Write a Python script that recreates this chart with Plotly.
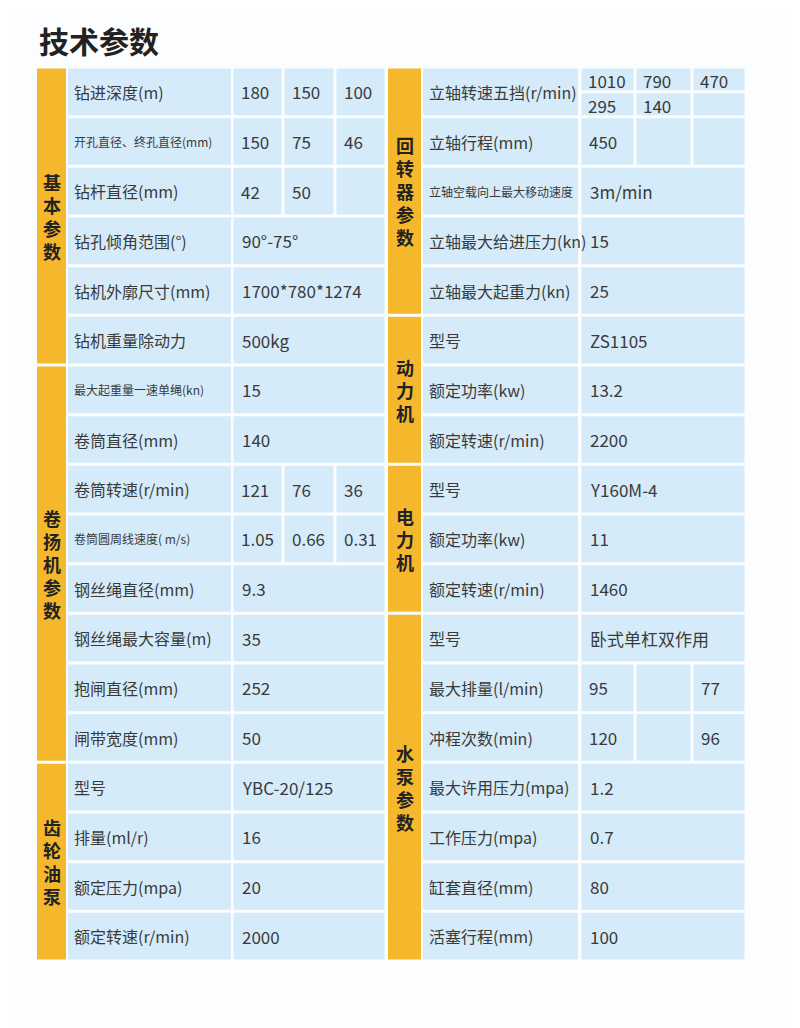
import plotly.graph_objects as go

title = "技术参数"
left_groups = [("基本参数", 0, 6), ("卷扬机参数", 6, 14), ("齿轮油泵", 14, 18)]
right_groups = [("回转器参数", 0, 5), ("动力机", 5, 8), ("电力机", 8, 11), ("水泵参数", 11, 18)]
left_labels = ["钻进深度(m)", "开孔直径、终孔直径(mm)", "钻杆直径(mm)", "钻孔倾角范围(°)", "钻机外廓尺寸(mm)",
               "钻机重量除动力", "最大起重量一速单绳(kn)", "卷筒直径(mm)", "卷筒转速(r/min)", "卷筒圆周线速度( m/s)",
               "钢丝绳直径(mm)", "钢丝绳最大容量(m)", "抱闸直径(mm)", "闸带宽度(mm)", "型号", "排量(ml/r)",
               "额定压力(mpa)", "额定转速(r/min)"]
left_values = [["180", "150", "100"], ["150", "75", "46"], ["42", "50", ""], ["90°-75°"], ["1700*780*1274"],
               ["500kg"], ["15"], ["140"], ["121", "76", "36"], ["1.05", "0.66", "0.31"], ["9.3"], ["35"],
               ["252"], ["50"], ["YBC-20/125"], ["16"], ["20"], ["2000"]]
right_labels = ["立轴转速五挡(r/min)", "立轴行程(mm)", "立轴空载向上最大移动速度", "立轴最大给进压力(kn)",
                "立轴最大起重力(kn)", "型号", "额定功率(kw)", "额定转速(r/min)", "型号", "额定功率(kw)",
                "额定转速(r/min)", "型号", "最大排量(l/min)", "冲程次数(min)", "最大许用压力(mpa)",
                "工作压力(mpa)", "缸套直径(mm)", "活塞行程(mm)"]
right_values = [[["1010", "790", "470"], ["295", "140", ""]], ["450", "", ""], ["3m/min"], ["15"], ["25"],
                ["ZS1105"], ["13.2"], ["2200"], ["Y160M-4"], ["11"], ["1460"], ["卧式单杠双作用"],
                ["95", "", "77"], ["120", "", "96"], ["1.2"], ["0.7"], ["80"], ["100"]]
small_labels = {"开孔直径、终孔直径(mm)", "最大起重量一速单绳(kn)", "卷筒圆周线速度( m/s)", "立轴空载向上最大移动速度"}

TOP, BOT = 67, 961
RH = (BOT - TOP) / 18
GAP = 1.5
BLUE = "#d5ebf9"
YEL = "#f5b82c"
TXT = "#3a3a3a"
FONT = "Noto Sans CJK SC"

LEFT = dict(yx=(37, 66), lab=(68, 231), vals=[232, 283, 335, 386])
RIGHT = dict(yx=(388, 421), lab=(423, 578), vals=[580, 635, 692, 746])

shapes, ann = [], []

def rect(x0, x1, y0, y1, color):
    shapes.append(dict(type="rect", xref="x", yref="y", x0=x0 + GAP, x1=x1 - GAP, y0=y0 + GAP, y1=y1 - GAP,
                       fillcolor=color, line=dict(width=0), layer="below"))

def text(x, y, s, size, anchor="left", bold=False, color=TXT):
    ann.append(dict(x=x, y=y, xref="x", yref="y", text=f"<b>{s}</b>" if bold else s, showarrow=False,
                    xanchor=anchor, yanchor="middle", font=dict(size=size, color=color, family=FONT)))

def side(cfg, groups, labels, values):
    for name, a, b in groups:
        y0, y1 = TOP + a * RH, TOP + b * RH
        shapes.append(dict(type="rect", xref="x", yref="y", x0=cfg["yx"][0], x1=cfg["yx"][1], y0=y0 + GAP,
                           y1=y1 - GAP, fillcolor=YEL, line=dict(width=0), layer="below"))
        cy = (y0 + y1) / 2
        n = len(name)
        for k, ch in enumerate(name):
            text((cfg["yx"][0] + cfg["yx"][1]) / 2, cy + (k - (n - 1) / 2) * 23, ch, 18, "center", True, "#222")
    v = cfg["vals"]
    for i, (lab, val) in enumerate(zip(labels, values)):
        y0, y1 = TOP + i * RH, TOP + (i + 1) * RH
        rect(cfg["lab"][0] - GAP, cfg["lab"][1] + GAP, y0, y1, BLUE)
        text(cfg["lab"][0] + 4, (y0 + y1) / 2, lab, 12 if lab in small_labels else 16)
        if isinstance(val[0], list):
            for k, sub in enumerate(val):
                sy0 = y0 + k * RH / 2
                for j, s in enumerate(sub):
                    rect(v[j], v[j + 1], sy0, sy0 + RH / 2, BLUE)
                    if s:
                        text(v[j] + 6, sy0 + RH / 4 + 1, s, 17)
        elif len(val) == 3:
            for j, s in enumerate(val):
                rect(v[j], v[j + 1], y0, y1, BLUE)
                if s:
                    text(v[j] + 7, (y0 + y1) / 2, s, 17)
        else:
            rect(v[0], v[3], y0, y1, BLUE)
            text(v[0] + 8, (y0 + y1) / 2, val[0], 17)

side(LEFT, left_groups, left_labels, left_values)
side(RIGHT, right_groups, right_labels, right_values)
text(37, 40, title, 30, "left", True, "#222")

fig = go.Figure()
fig.update_layout(width=792, height=1020, margin=dict(l=0, r=0, t=0, b=0), paper_bgcolor="#fbfdff",
                  plot_bgcolor="rgba(0,0,0,0)", shapes=shapes, annotations=ann, showlegend=False,
                  xaxis=dict(range=[8, 800], visible=False, fixedrange=True),
                  yaxis=dict(range=[1028, 8], visible=False, fixedrange=True))
fig.write_html("out.html")
